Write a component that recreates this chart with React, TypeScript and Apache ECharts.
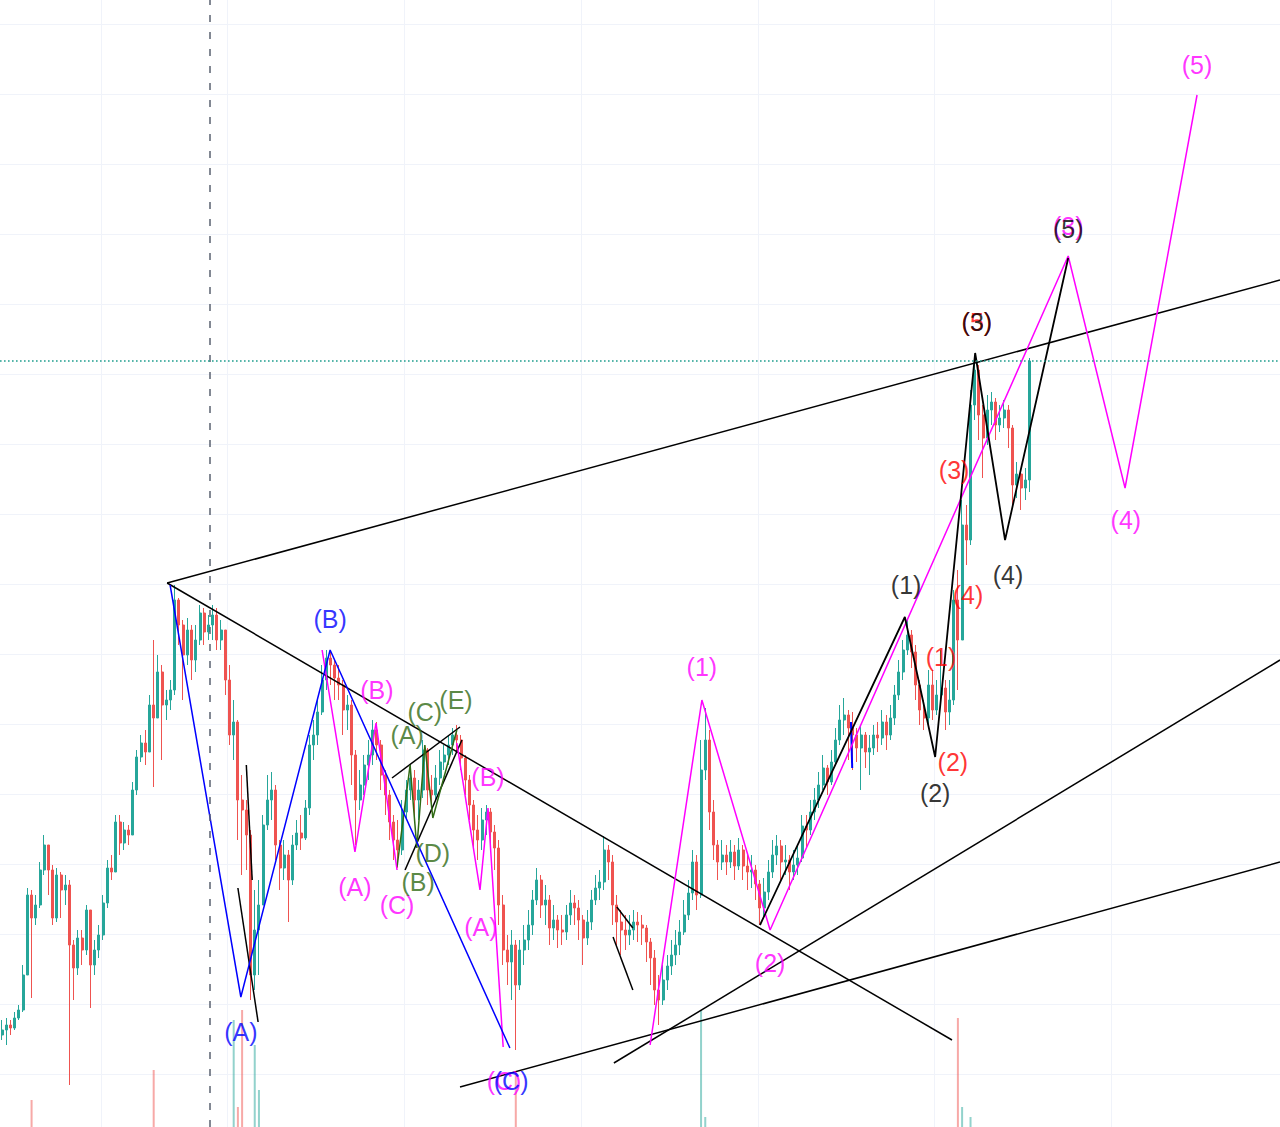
import React, { useEffect, useRef } from "react";
import * as echarts from "echarts";

// Candle index axis (4h bars) and price axis (arbitrary units)
const firstOpen = 109;
const closes = [
  114,119,116,126,134,169,249,226,239,274,
  299,274,226,269,254,259,199,176,206,194,
  234,179,194,209,241,276,272,322,301,314,
  309,354,387,401,392,439,426,472,439,444,
  454,544,519,489,514,484,504,531,512,519,
  529,504,514,464,409,422,344,334,309,169,
  214,239,319,344,354,299,276,289,264,299,
  311,306,336,399,409,432,464,486,479,466,
  459,434,439,389,344,359,379,389,414,399,
  369,349,322,304,294,332,354,366,344,354,
  394,354,349,366,382,389,399,409,404,386,
  364,339,314,304,324,332,312,296,239,194,
  182,199,159,194,204,219,244,264,239,244,
  216,224,214,212,229,241,236,224,206,222,
  244,256,262,294,282,239,222,214,209,214,
  222,219,216,202,186,154,144,164,178,189,
  199,212,229,251,282,249,374,404,332,299,
  282,289,282,292,278,294,278,272,274,260,
  236,252,272,289,298,282,284,272,279,286,
  318,314,332,344,359,376,362,382,404,424,
  429,416,409,396,409,392,396,409,406,422,
  409,426,449,472,494,509,492,459,434,426,
  459,434,449,456,432,444,544,504,619,604,
  739,774,729,706,734,742,719,726,734,716,
  659,670,656,664,783,
];
const highs = [
  124,126,124,132,139,179,256,254,249,282,
  309,299,279,276,272,269,264,204,214,214,
  239,234,204,219,249,284,289,329,329,322,
  319,362,394,409,414,449,504,489,479,454,
  464,559,546,524,526,519,519,539,536,529,
  539,536,524,514,479,444,424,369,344,314,
  254,264,329,369,372,359,304,304,294,309,
  324,329,344,409,424,444,479,494,494,484,
  479,464,449,444,394,374,389,404,424,422,
  404,374,354,329,324,344,364,379,374,364,
  404,396,369,379,394,399,409,416,419,409,
  389,369,344,329,336,339,336,319,304,249,
  209,214,204,204,219,234,254,276,269,259,
  249,239,229,229,239,254,249,244,229,234,
  254,269,274,308,299,289,249,234,229,229,
  234,232,229,219,206,194,169,179,189,204,
  214,224,244,264,294,289,404,436,414,344,
  304,304,299,304,299,306,299,289,289,279,
  264,266,284,304,309,304,299,289,294,299,
  329,329,344,356,372,389,379,394,416,439,
  446,434,432,416,419,412,409,419,422,434,
  429,439,459,484,504,524,514,499,464,444,
  474,474,464,494,464,464,554,574,644,639,
  754,789,779,739,749,752,746,739,744,739,
  719,682,674,676,786,
];
const lows = [
  104,99,109,114,124,132,169,146,219,236,
  269,249,219,222,226,239,59,144,169,179,
  189,136,169,186,204,236,264,274,289,294,
  299,309,349,382,379,404,357,444,384,424,
  434,449,499,444,479,464,472,499,499,504,
  504,494,494,449,399,384,304,269,274,144,
  154,169,239,314,324,284,254,264,222,259,
  294,294,304,329,384,399,429,454,459,444,
  444,409,414,359,299,334,349,364,379,384,
  354,329,304,284,276,289,324,344,324,324,
  346,339,332,344,359,374,379,389,392,374,
  349,324,296,284,294,309,296,274,219,179,
  159,144,94,154,179,194,209,239,226,219,
  199,204,196,199,204,219,219,204,179,199,
  214,239,244,254,264,219,199,189,194,199,
  204,202,199,182,159,139,119,139,154,169,
  179,189,209,224,244,234,246,364,314,284,
  264,274,269,276,264,274,264,254,256,244,
  219,226,244,266,279,264,269,254,264,269,
  282,296,309,324,336,354,349,359,379,399,
  409,384,374,382,354,376,369,389,392,399,
  394,404,419,444,464,489,476,444,419,414,
  419,424,429,439,414,419,439,454,544,579,
  599,724,704,666,699,719,704,712,716,696,
  639,646,634,644,652,
];
const volumes = [
  40,35,30,45,50,60,85,127,55,48,62,44,70,52,40,38,95,66,45,42,
  50,72,40,36,48,55,42,58,40,35,30,52,60,45,40,55,157,70,62,40,
  35,88,60,50,45,42,38,40,36,55,48,40,45,70,90,207,120,217,85,98,
  182,137,92,70,55,48,60,42,66,50,40,38,45,80,58,52,60,44,40,36,
  35,42,40,66,75,50,45,40,52,38,45,48,55,42,50,48,40,38,44,36,
  50,42,38,35,30,32,34,30,38,45,40,48,52,45,40,38,44,50,70,80,
  65,72,152,60,48,45,50,42,38,40,36,35,32,34,30,36,32,40,45,38,
  34,36,30,55,42,48,40,36,32,30,28,30,32,36,42,58,66,50,40,36,
  35,32,38,45,60,50,217,110,80,60,45,40,36,34,32,35,30,32,34,40,
  45,40,36,38,32,34,30,36,32,30,42,38,40,44,40,46,36,40,45,42,
  40,38,44,36,48,34,36,32,30,34,30,36,40,45,48,42,40,45,42,38,
  50,44,40,46,42,48,95,209,120,75,110,98,70,60,55,48,45,40,42,50,
  65,50,45,40,80,
];

// Grid: price levels and date ticks (candle-index units), session marker
const priceLevels = [70, 140, 210, 280, 350, 420, 490, 560, 630, 700, 770, 840, 910, 980, 1050, 1120];
const dateTicks = [23.5, 53.5, 95.5, 137.5, 179.5, 221.5, 263.5];
const sessionMarker = 49.4;

// Drawn annotations: [candle index, price]
const trendUpper = [[39.2, 561], [303.5, 864]];
const trendDown = [[39.2, 561], [225.6, 104]];
const supportLow = [[108.75, 57], [303.5, 282]];
const supportMid = [[145.3, 81], [303.5, 484]];
const triUpper = [[92.6, 366], [108.75, 417]];
const triLower = [[95.7, 274], [109.2, 404]];
const tickA1 = [[58.0, 379], [59.4, 264]];
const tickA2 = [[56.0, 256], [60.8, 122]];
const tickB1 = [[146.0, 237], [149.8, 216]];
const tickB2 = [[145.1, 207], [149.8, 154]];
const blueTick = [[201.6, 422], [201.9, 376]];
const blueWave = [[39.9, 559], [56.7, 147], [77.9, 494], [120.6, 96]];
const magentaWaveA = [[76.0, 494], [83.8, 292], [88.8, 421], [93.8, 274]];
const magentaWaveB = [[108.0, 401], [113.5, 254], [115.4, 336], [119.0, 97]];
const magentaWaveC = [[153.9, 99], [166.2, 444], [182.4, 214], [253.2, 888], [266.7, 656], [283.8, 1049]];
const blackWave = [[180.0, 219], [214.4, 527], [221.6, 387], [231.1, 791], [238.2, 604], [253.2, 886]];
const greenWave = [[93.8, 277], [96.9, 379], [98.5, 296], [100.4, 399], [102.3, 326], [108.0, 414]];

const magentaLabels: [string, number, number][] = [
  ["(B)", 89.0, 454], ["(A)", 83.8, 257], ["(C)", 93.8, 239], ["(A)", 113.7, 217],
  ["(B)", 115.4, 367], ["(C)", 119.2, 63], ["(1)", 166.2, 477], ["(2)", 182.4, 181],
  ["(3)", 253.2, 918], ["(4)", 266.9, 624], ["(5)", 283.8, 1079],
];
const redLabels: [string, number, number][] = [
  ["(1)", 223.0, 487], ["(2)", 225.8, 382], ["(3)", 226.1, 674], ["(4)", 229.4, 549], ["(5)", 231.5, 822],
];
const blackLabels: [string, number, number][] = [
  ["(1)", 214.7, 559], ["(2)", 221.6, 351], ["(3)", 231.5, 822], ["(4)", 238.9, 569], ["(5)", 253.2, 915],
];
const blueLabels: [string, number, number][] = [
  ["(A)", 56.7, 112], ["(B)", 77.9, 525], ["(C)", 120.9, 63],
];
const greenLabels: [string, number, number][] = [
  ["(A)", 96.2, 409], ["(C)", 100.4, 432], ["(E)", 107.8, 444], ["(B)", 98.8, 262], ["(D)", 102.3, 291],
];

const UP = "#26a69a";
const DOWN = "#ef5350";
const MAGENTA = "#ff00ff";
const BLUE = "#0000ff";
const RED = "#ff0000";
const GREEN = "#2f6a14";
const BLACK = "#000000";
const GRID = "#f0f3fa";

function buildOption() {
  const opens = closes.map((_, i) => (i === 0 ? firstOpen : closes[i - 1]));
  const candleData = closes.map((c, i) => {
    const o = opens[i];
    return [i, o, c, Math.min(lows[i], o, c), Math.max(highs[i], o, c)];
  });
  const volData = volumes.map((v, i) => ({
    value: [i, v],
    itemStyle: { color: closes[i] >= opens[i] ? "rgba(38,166,154,0.5)" : "rgba(239,83,80,0.5)" },
  }));
  const lastClose = closes[closes.length - 1];

  const poly = (pts: number[][], color: string, width = 1.5) => ({
    type: "line",
    data: pts,
    symbol: "none",
    silent: true,
    xAxisIndex: 0,
    yAxisIndex: 0,
    z: 4,
    lineStyle: { color, width },
  });
  const labels = (items: [string, number, number][], color: string) => ({
    type: "scatter",
    data: items.map(([t, x, y]) => ({ value: [x, y], label: { formatter: t } })),
    symbolSize: 1,
    silent: true,
    xAxisIndex: 0,
    yAxisIndex: 0,
    z: 6,
    itemStyle: { color: "rgba(0,0,0,0)" },
    label: {
      show: true,
      position: "inside",
      color,
      fontSize: 25,
      fontFamily: "Liberation Sans, Arial, sans-serif",
    },
  });

  return {
    animation: false,
    backgroundColor: "#ffffff",
    grid: [
      { left: 0, right: 0, top: 0, bottom: 0 },
      { left: 0, right: 0, top: 1000, bottom: 0 },
    ],
    xAxis: [
      { type: "value", gridIndex: 0, min: -0.5, max: 303.5, show: false },
      { type: "value", gridIndex: 1, min: -0.5, max: 303.5, show: false },
    ],
    yAxis: [
      { type: "value", gridIndex: 0, min: 17, max: 1144, show: false },
      { type: "value", gridIndex: 1, min: 100, max: 227, show: false },
    ],
    series: [
      {
        type: "line",
        data: [],
        xAxisIndex: 0,
        yAxisIndex: 0,
        silent: true,
        z: 1,
        markLine: {
          silent: true,
          symbol: ["none", "none"],
          label: { show: false },
          z: 1,
          data: [
            ...dateTicks.map((x) => ({ xAxis: x, lineStyle: { color: GRID, width: 1, type: "solid" } })),
            ...priceLevels.map((y) => ({ yAxis: y, lineStyle: { color: GRID, width: 1, type: "solid" } })),
          ],
        },
      },
      {
        type: "bar",
        xAxisIndex: 1,
        yAxisIndex: 1,
        data: volData,
        barWidth: 2,
        silent: true,
        clip: true,
        z: 2,
      },
      {
        type: "candlestick",
        xAxisIndex: 0,
        yAxisIndex: 0,
        data: candleData,
        encode: { x: 0, y: [1, 2, 3, 4] },
        barWidth: 2.5,
        silent: true,
        z: 3,
        itemStyle: {
          color: UP,
          color0: DOWN,
          borderColor: UP,
          borderColor0: DOWN,
          borderWidth: 1,
        },
        markLine: {
          silent: true,
          symbol: ["none", "none"],
          label: { show: false },
          data: [
            { xAxis: sessionMarker, lineStyle: { color: "#5a6270", width: 1.5, type: [7, 10] } },
            { yAxis: lastClose, lineStyle: { color: "#1f9e8e", width: 1.6, type: [1.6, 2.4] } },
          ],
        },
      },
      poly(trendUpper, BLACK),
      poly(trendDown, BLACK),
      poly(supportLow, BLACK),
      poly(supportMid, BLACK),
      poly(triUpper, BLACK),
      poly(triLower, BLACK),
      poly(tickA1, BLACK),
      poly(tickA2, BLACK),
      poly(tickB1, BLACK),
      poly(tickB2, BLACK),
      poly(blueTick, BLUE, 2),
      poly(greenWave, GREEN),
      poly(magentaWaveA, MAGENTA),
      poly(magentaWaveB, MAGENTA),
      poly(magentaWaveC, MAGENTA),
      poly(blueWave, BLUE),
      poly(blackWave, BLACK, 1.8),
      labels(magentaLabels, MAGENTA),
      labels(redLabels, RED),
      labels(blackLabels, BLACK),
      labels(blueLabels, BLUE),
      labels(greenLabels, GREEN),
    ],
  };
}

export default function App() {
  const ref = useRef<HTMLDivElement>(null);
  useEffect(() => {
    if (!ref.current) return;
    const chart = echarts.init(ref.current, undefined, { renderer: "svg" });
    chart.setOption(buildOption() as any);
    return () => chart.dispose();
  }, []);
  return (
    <div
      ref={ref}
      style={{ position: "absolute", left: 0, top: 0, width: 1280, height: 1127 }}
    />
  );
}
